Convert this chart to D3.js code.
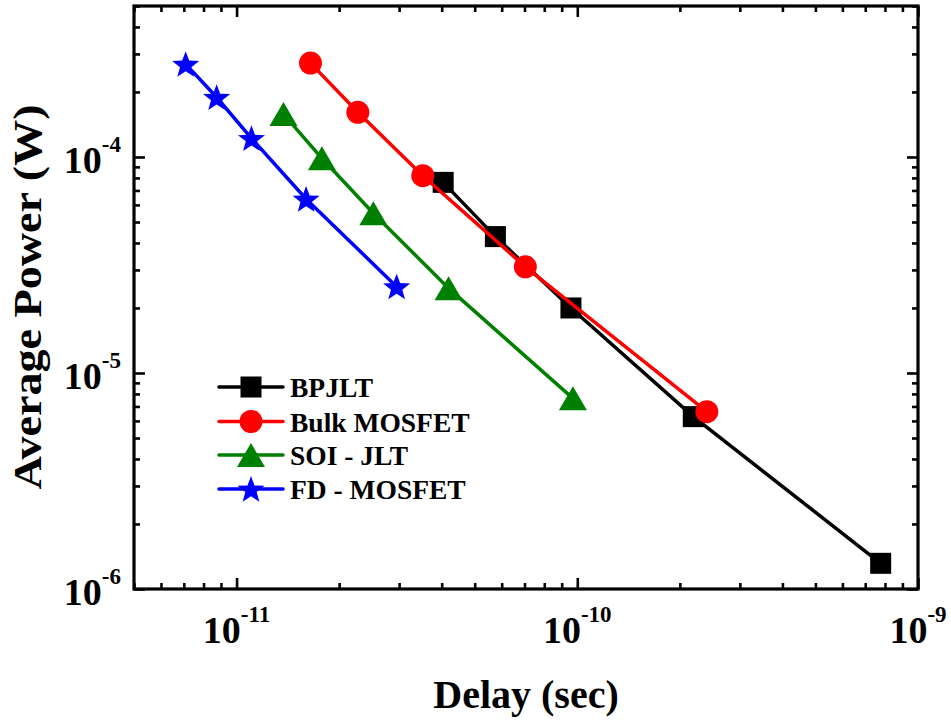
<!DOCTYPE html>
<html>
<head>
<meta charset="utf-8">
<script src="https://cdn.jsdelivr.net/npm/d3@7"></script>
<style>
  html, body { margin: 0; padding: 0; background: #fff; }
  svg { display: block; }
</style>
</head>
<body>
<svg id="chart" width="951" height="721"></svg>
<script>
// ---- data ----
const seriesNames = ["BPJLT", "Bulk MOSFET", "SOI - JLT", "FD - MOSFET"];
const seriesColors = ["#000000", "#ff0000", "#008000", "#0000ff"];
const seriesShapes = ["square", "circle", "triangle", "star"];

const bpjltDelay = [4.04e-11, 5.75e-11, 9.58e-11, 2.19e-10, 7.77e-10];
const bpjltPower = [7.63e-5, 4.28e-5, 2.0e-5, 6.28e-6, 1.315e-6];

const bulkDelay = [1.648e-11, 2.27e-11, 3.52e-11, 7.04e-11, 2.40e-10];
const bulkPower = [2.72e-4, 1.61e-4, 8.19e-5, 3.10e-5, 6.62e-6];

const soiDelay = [1.373e-11, 1.78e-11, 2.52e-11, 4.19e-11, 9.71e-11];
const soiPower = [1.58e-4, 9.86e-5, 5.49e-5, 2.47e-5, 7.63e-6];

const fdDelay = [7.09e-12, 8.74e-12, 1.106e-11, 1.60e-11, 2.95e-11];
const fdPower = [2.69e-4, 1.89e-4, 1.22e-4, 6.39e-5, 2.51e-5];

const xTickExps = [-11, -10, -9];
const yTickExps = [-6, -5, -4];
const xTitle = "Delay (sec)";
const yTitle = "Average Power (W)";

const seriesDelay = [bpjltDelay, bulkDelay, soiDelay, fdDelay];
const seriesPower = [bpjltPower, bulkPower, soiPower, fdPower];

// ---- layout ----
const L = 134, R = 918, T = 6, B = 589;
const FONT = "'Liberation Serif', 'Times New Roman', Times, serif";
const svg = d3.select("#chart");

const x = d3.scaleLog().domain([5e-12, 1e-9]).range([L, R]);
const y = d3.scaleLog().domain([1e-6, 5e-4]).range([B, T]);

function minors(domain) {
  const out = [];
  const lo = Math.floor(Math.log10(domain[0])), hi = Math.ceil(Math.log10(domain[1]));
  for (let e = lo; e < hi; e++) {
    for (let m = 2; m <= 9; m++) {
      const v = m * Math.pow(10, e);
      if (v >= domain[0] * 0.999 && v <= domain[1] * 1.001) out.push(v);
    }
  }
  return out;
}
const xMajor = xTickExps.map(e => Math.pow(10, e));
const yMajor = yTickExps.map(e => Math.pow(10, e));
const xMinor = minors(x.domain());
const yMinor = minors(y.domain());

function drawAxis(gen, tx, ty, vals, size) {
  const g = svg.append("g").attr("transform", `translate(${tx},${ty})`)
    .call(gen.tickValues(vals).tickSize(-size).tickSizeOuter(0).tickFormat(""));
  g.select(".domain").remove();
  g.selectAll(".tick line").attr("stroke", "#000").attr("stroke-width", 2.6);
}
[[xMinor, 6], [xMajor, 11]].forEach(([v, s]) => {
  drawAxis(d3.axisBottom(x), 0, B, v, s);
  drawAxis(d3.axisTop(x), 0, T, v, s);
});
[[yMinor, 6], [yMajor, 11]].forEach(([v, s]) => {
  drawAxis(d3.axisLeft(y), L, 0, v, s);
  drawAxis(d3.axisRight(y), R, 0, v, s);
});

// frame
svg.append("rect").attr("x", L).attr("y", T).attr("width", R - L).attr("height", B - T)
  .attr("fill", "none").attr("stroke", "#000").attr("stroke-width", 3.2);

// tick labels
xTickExps.forEach(e => {
  const t = svg.append("text").attr("x", x(Math.pow(10, e))).attr("y", 643)
    .attr("text-anchor", "middle").attr("font-family", FONT).attr("font-weight", "bold");
  t.append("tspan").attr("font-size", 38).text("10");
  t.append("tspan").attr("font-size", 23).attr("dy", -21).text(String(e));
});
yTickExps.forEach(e => {
  const t = svg.append("text").attr("x", 121).attr("y", y(Math.pow(10, e)) + 16)
    .attr("text-anchor", "end").attr("font-family", FONT).attr("font-weight", "bold");
  t.append("tspan").attr("font-size", 38).text("10");
  t.append("tspan").attr("font-size", 23).attr("dy", -21).text(String(e));
});

// axis titles
svg.append("text").attr("x", (L + R) / 2).attr("y", 708).attr("text-anchor", "middle")
  .attr("font-family", FONT).attr("font-weight", "bold")
  .attr("font-size", 40).text(xTitle);
svg.append("text").attr("transform", "translate(41,297) rotate(-90)")
  .attr("text-anchor", "middle").attr("font-size", 41)
  .attr("font-family", FONT).attr("font-weight", "bold")
  .attr("textLength", 385).attr("lengthAdjust", "spacingAndGlyphs").text(yTitle);

// markers
function starPath(Ro, ratio) {
  const pts = [];
  for (let i = 0; i < 10; i++) {
    const r = i % 2 === 0 ? Ro : Ro * ratio;
    const a = -Math.PI / 2 + i * Math.PI / 5;
    pts.push([r * Math.cos(a), r * Math.sin(a)]);
  }
  return "M" + pts.map(p => p[0].toFixed(2) + "," + p[1].toFixed(2)).join("L") + "Z";
}
function drawMarker(g, shape, cx, cy, color) {
  if (shape === "square") {
    g.append("rect").attr("x", cx - 10.5).attr("y", cy - 10.5).attr("width", 21).attr("height", 21)
      .attr("fill", color);
  } else if (shape === "circle") {
    g.append("circle").attr("cx", cx).attr("cy", cy).attr("r", 11.5).attr("fill", color);
  } else if (shape === "triangle") {
    const w = 28, h = 24;
    g.append("path").attr("d", `M${cx},${cy - h / 2}L${cx + w / 2},${cy + h / 2}L${cx - w / 2},${cy + h / 2}Z`)
      .attr("fill", color);
  } else if (shape === "star") {
    g.append("path").attr("transform", `translate(${cx},${cy + 1.2})`).attr("d", starPath(14.2, 0.42))
      .attr("fill", color);
  }
}

const line = d3.line().x(d => x(d[0])).y(d => y(d[1]));
seriesNames.forEach((name, i) => {
  const pts = seriesDelay[i].map((d, j) => [d, seriesPower[i][j]]);
  const g = svg.append("g");
  g.append("path").datum(pts).attr("d", line).attr("fill", "none")
    .attr("stroke", seriesColors[i]).attr("stroke-width", 3.5);
  pts.forEach(p => drawMarker(g, seriesShapes[i], x(p[0]), y(p[1]), seriesColors[i]));
});

// legend
const legRows = [387, 421.5, 455, 489];
seriesNames.forEach((name, i) => {
  const g = svg.append("g");
  const yy = legRows[i];
  g.append("line").attr("x1", 219).attr("x2", 283).attr("y1", yy).attr("y2", yy)
    .attr("stroke", seriesColors[i]).attr("stroke-width", 3.5).attr("stroke-linecap", "round");
  drawMarker(g, seriesShapes[i], 251, yy, seriesColors[i]);
  g.append("text").attr("x", 290).attr("y", yy + 10).attr("font-size", 27.5)
    .attr("font-family", FONT).attr("font-weight", "bold").text(name);
});
</script>
</body>
</html>
